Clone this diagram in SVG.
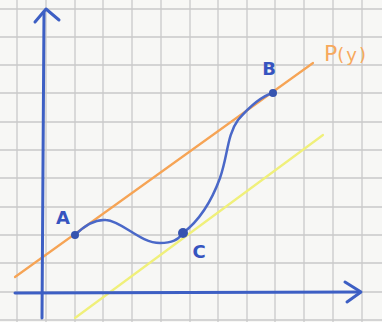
<svg xmlns="http://www.w3.org/2000/svg" width="382" height="322" viewBox="0 0 382 322">
<defs>
<style>
.grid line{stroke:#c9c9c9;stroke-width:1.3}
.ax{stroke:#3d5fc4;stroke-width:3;fill:none;stroke-linecap:round;stroke-linejoin:round}
.crv{stroke:#4a68c8;stroke-width:2.5;fill:none;stroke-linecap:round}
.lbl{font-family:"DejaVu Sans",sans-serif;font-weight:bold;fill:#3654c0;font-size:18px}
.dot{fill:#3654b0}
</style>
</defs>
<rect width="382" height="322" fill="#f7f7f5"/>
<g class="grid">
<line x1="17" y1="0" x2="17" y2="322"/>
<line x1="46" y1="0" x2="46" y2="322"/>
<line x1="75" y1="0" x2="75" y2="322"/>
<line x1="103" y1="0" x2="103" y2="322"/>
<line x1="132" y1="0" x2="132" y2="322"/>
<line x1="161" y1="0" x2="161" y2="322"/>
<line x1="190" y1="0" x2="190" y2="322"/>
<line x1="218" y1="0" x2="218" y2="322"/>
<line x1="247" y1="0" x2="247" y2="322"/>
<line x1="275" y1="0" x2="275" y2="322"/>
<line x1="304" y1="0" x2="304" y2="322"/>
<line x1="333" y1="0" x2="333" y2="322"/>
<line x1="362" y1="0" x2="362" y2="322"/>
<line x1="0" y1="9" x2="382" y2="9"/>
<line x1="0" y1="37" x2="382" y2="37"/>
<line x1="0" y1="65" x2="382" y2="65"/>
<line x1="0" y1="93" x2="382" y2="93"/>
<line x1="0" y1="122" x2="382" y2="122"/>
<line x1="0" y1="150" x2="382" y2="150"/>
<line x1="0" y1="178" x2="382" y2="178"/>
<line x1="0" y1="207" x2="382" y2="207"/>
<line x1="0" y1="235" x2="382" y2="235"/>
<line x1="0" y1="263" x2="382" y2="263"/>
<line x1="0" y1="292" x2="382" y2="292"/>
<line x1="0" y1="320" x2="382" y2="320"/>
</g>
<g id="lines">
<line x1="15" y1="277" x2="313" y2="63" stroke="#f6a455" stroke-width="2.2" stroke-linecap="round"/>
<line x1="75" y1="318" x2="323" y2="135" stroke="#f0f07a" stroke-width="2.2" stroke-linecap="round"/>
</g>
<g id="axes">
<path class="ax" d="M42,318 L44,12"/>
<path class="ax" d="M35,22 L46,9 L59,20"/>
<path class="ax" d="M15,293 L360,292"/>
<path class="ax" d="M345,282 L361,292 L347,302"/>
</g>
<g id="curve">
<path class="crv" d="M75,235 C85,225 95,219 106,220 C122,221 140,243 160,243 C172,243 178,240 183,233 C200,220 212,200 220,178 C228,155 227,135 238,120 C250,106 262,96 273,93"/>
</g>
<g id="A"><circle class="dot" cx="75" cy="235" r="4"/><text class="lbl" x="63" y="224" text-anchor="middle">A</text></g>
<g id="B"><circle class="dot" cx="273" cy="93" r="4"/><text class="lbl" x="269" y="75" text-anchor="middle">B</text></g>
<g id="C"><circle class="dot" cx="183" cy="233" r="5"/><text class="lbl" x="199" y="258" text-anchor="middle">C</text></g>
<g id="P"><text x="324" y="61" font-family="DejaVu Sans,sans-serif" font-size="22" fill="#f7a95c">P<tspan font-size="18" letter-spacing="2">(y)</tspan></text></g>
</svg>
